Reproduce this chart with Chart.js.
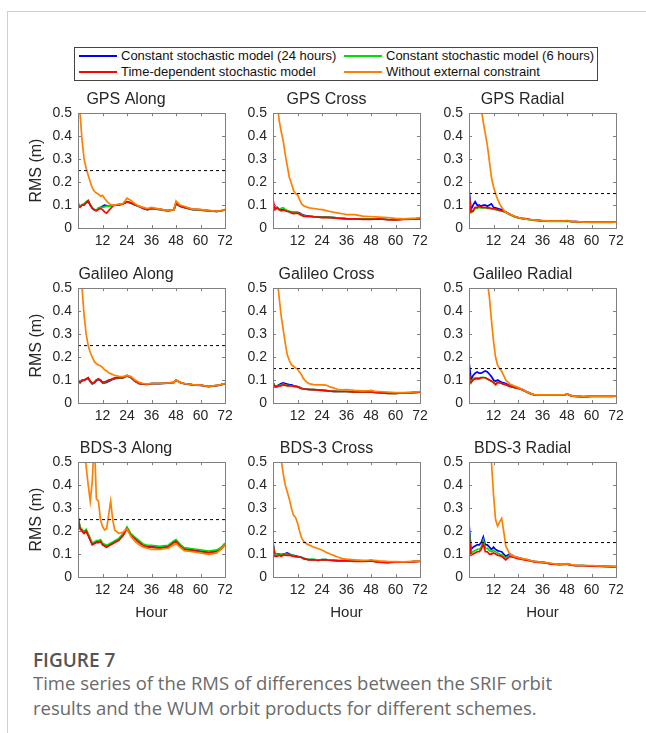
<!DOCTYPE html>
<html>
<head>
<meta charset="utf-8">
<script src="https://cdn.jsdelivr.net/npm/chart.js@4.4.1/dist/chart.umd.min.js"></script>
<style>
  body { margin: 0; background: #fff; width: 646px; height: 733px; position: relative; overflow: hidden; font-family: "Liberation Sans", Arial, sans-serif; }
  #frame { position: absolute; left: 7px; top: 11px; right: -2px; bottom: -2px; border-top: 1px solid #d0d0d0; border-left: 1px solid #d0d0d0; }
  #legend { position: absolute; left: 74px; top: 47px; width: 524px; height: 34px; border: 1px solid #444; box-sizing: border-box; }
  .item { position: absolute; font-size: 13px; color: #111; white-space: nowrap; line-height: 16px; }
  .swatch { position: absolute; height: 2px; width: 38px; }
  .panel { position: absolute; }
  #caption-head { position: absolute; left: 33px; top: 647px; font-family: "Open Sans", "Noto Sans", sans-serif; font-size: 19px; font-weight: 600; color: #555; }
  #caption { position: absolute; left: 33px; top: 671px; width: 560px; font-family: "Open Sans", "Noto Sans", sans-serif; font-size: 18.5px; line-height: 24.5px; color: #6a6a6a; }
</style>
</head>
<body>
<div id="frame"></div>
<div id="legend"></div>
<div id="caption-head">FIGURE 7</div>
<div id="caption">Time series of the RMS of differences between the SRIF orbit results and the WUM orbit products for different schemes.</div>
<script>
// -- Data --
const hours = [0, 1, 2, 3, 4, 5, 6, 7, 8, 9, 10, 11, 12, 13, 14, 15, 16, 17, 18, 20, 22, 24, 26, 28, 30, 32, 34, 36, 40, 44, 47, 48, 50, 52, 56, 60, 64, 68, 70, 72];

const seriesNames = ["Constant stochastic model (24 hours)", "Constant stochastic model (6 hours)", "Time-dependent stochastic model", "Without external constraint"];
const seriesColors = ["#0000ff", "#00e000", "#ff0000", "#ff8000"];

const panelTitles = ["GPS Along", "GPS Cross", "GPS Radial", "Galileo Along", "Galileo Cross", "Galileo Radial", "BDS-3 Along", "BDS-3 Cross", "BDS-3 Radial"];
const thresholds = [0.25, 0.15, 0.15, 0.25, 0.15, 0.15, 0.25, 0.15, 0.15];
const xTicks = [0, 12, 24, 36, 48, 60, 72];
const yTicks = [0, 0.1, 0.2, 0.3, 0.4, 0.5];

// GPS
const gpsAlongBlue   = [0.105,0.095,0.1,0.105,0.11,0.115,0.1,0.087,0.08,0.077,0.082,0.09,0.095,0.1,0.098,0.095,0.095,0.098,0.1,0.102,0.105,0.113,0.108,0.1,0.093,0.085,0.08,0.085,0.08,0.075,0.08,0.105,0.095,0.09,0.08,0.078,0.075,0.072,0.074,0.079];
const gpsAlongGreen  = [0.11,0.095,0.1,0.105,0.115,0.12,0.102,0.088,0.08,0.078,0.088,0.09,0.09,0.092,0.095,0.095,0.095,0.098,0.1,0.102,0.106,0.115,0.11,0.1,0.094,0.086,0.08,0.085,0.081,0.076,0.08,0.107,0.095,0.09,0.081,0.079,0.075,0.072,0.074,0.079];
const gpsAlongRed    = [0.1,0.09,0.1,0.1,0.11,0.12,0.1,0.085,0.078,0.075,0.08,0.085,0.08,0.07,0.065,0.075,0.085,0.095,0.1,0.1,0.105,0.115,0.11,0.1,0.095,0.085,0.08,0.085,0.082,0.076,0.08,0.11,0.095,0.09,0.082,0.08,0.076,0.072,0.075,0.08];
const gpsAlongOrange = [0.9,0.5,0.38,0.3,0.26,0.23,0.2,0.175,0.16,0.152,0.148,0.138,0.142,0.13,0.118,0.108,0.102,0.1,0.1,0.104,0.106,0.13,0.12,0.105,0.095,0.09,0.085,0.09,0.082,0.076,0.08,0.118,0.1,0.095,0.082,0.08,0.077,0.073,0.075,0.08];

const gpsCrossBlue   = [0.11,0.085,0.09,0.08,0.08,0.08,0.078,0.075,0.072,0.07,0.068,0.068,0.068,0.065,0.06,0.056,0.054,0.053,0.052,0.05,0.049,0.047,0.047,0.046,0.045,0.043,0.042,0.041,0.04,0.039,0.039,0.039,0.04,0.041,0.037,0.036,0.038,0.04,0.04,0.041];
const gpsCrossGreen  = [0.1,0.083,0.09,0.082,0.086,0.088,0.08,0.076,0.073,0.07,0.07,0.068,0.066,0.062,0.057,0.054,0.052,0.051,0.051,0.049,0.048,0.046,0.047,0.046,0.045,0.043,0.042,0.041,0.04,0.039,0.039,0.039,0.04,0.041,0.037,0.036,0.038,0.04,0.04,0.041];
const gpsCrossRed    = [0.125,0.08,0.088,0.08,0.075,0.078,0.075,0.072,0.07,0.066,0.063,0.064,0.065,0.06,0.055,0.052,0.05,0.05,0.05,0.048,0.047,0.045,0.046,0.045,0.044,0.042,0.041,0.04,0.04,0.038,0.038,0.038,0.039,0.04,0.036,0.035,0.037,0.039,0.04,0.04];
const gpsCrossOrange = [1.2,0.8,0.55,0.47,0.42,0.38,0.32,0.27,0.22,0.195,0.165,0.15,0.145,0.125,0.105,0.097,0.093,0.09,0.088,0.085,0.082,0.08,0.076,0.072,0.068,0.065,0.062,0.058,0.058,0.052,0.05,0.05,0.049,0.048,0.045,0.042,0.04,0.042,0.043,0.045];

const gpsRadialBlue   = [0.17,0.08,0.1,0.115,0.1,0.1,0.095,0.1,0.1,0.095,0.1,0.105,0.09,0.088,0.085,0.082,0.08,0.075,0.07,0.06,0.05,0.045,0.042,0.04,0.037,0.035,0.033,0.031,0.03,0.03,0.03,0.031,0.029,0.028,0.026,0.025,0.025,0.025,0.025,0.026];
const gpsRadialGreen  = [0.145,0.068,0.072,0.085,0.085,0.09,0.088,0.088,0.087,0.085,0.085,0.083,0.082,0.08,0.078,0.076,0.074,0.071,0.068,0.058,0.05,0.044,0.041,0.038,0.035,0.033,0.031,0.03,0.029,0.029,0.029,0.03,0.028,0.027,0.025,0.024,0.024,0.024,0.024,0.025];
const gpsRadialRed    = [0.15,0.07,0.075,0.09,0.09,0.095,0.09,0.09,0.09,0.088,0.088,0.085,0.085,0.083,0.08,0.078,0.075,0.072,0.07,0.06,0.052,0.045,0.042,0.04,0.037,0.035,0.033,0.031,0.03,0.03,0.03,0.031,0.029,0.028,0.026,0.025,0.025,0.025,0.025,0.026];
const gpsRadialOrange = [2.0,1.6,1.3,1.0,0.8,0.6,0.52,0.46,0.41,0.36,0.29,0.22,0.18,0.15,0.125,0.105,0.09,0.078,0.068,0.06,0.052,0.045,0.042,0.039,0.037,0.035,0.033,0.032,0.03,0.03,0.031,0.033,0.029,0.028,0.026,0.025,0.025,0.025,0.025,0.026];

// Galileo
const galAlongBlue   = [0.098,0.088,0.097,0.098,0.103,0.108,0.093,0.083,0.088,0.097,0.102,0.097,0.088,0.088,0.09,0.095,0.098,0.103,0.106,0.108,0.109,0.118,0.11,0.094,0.084,0.082,0.081,0.084,0.084,0.086,0.089,0.099,0.089,0.084,0.079,0.077,0.071,0.076,0.079,0.084];
const galAlongGreen  = [0.1,0.09,0.1,0.1,0.105,0.11,0.095,0.085,0.09,0.1,0.104,0.1,0.09,0.091,0.094,0.099,0.101,0.105,0.109,0.11,0.11,0.12,0.111,0.095,0.085,0.083,0.082,0.085,0.085,0.087,0.09,0.1,0.09,0.085,0.08,0.078,0.072,0.077,0.08,0.085];
const galAlongRed    = [0.1,0.09,0.1,0.1,0.105,0.11,0.095,0.085,0.09,0.1,0.105,0.1,0.09,0.092,0.095,0.1,0.102,0.106,0.11,0.11,0.11,0.12,0.112,0.095,0.085,0.083,0.082,0.085,0.085,0.087,0.09,0.1,0.09,0.085,0.08,0.078,0.072,0.077,0.08,0.085];
const galAlongOrange = [1.0,0.7,0.5,0.38,0.3,0.25,0.22,0.2,0.18,0.172,0.165,0.162,0.155,0.145,0.14,0.132,0.128,0.124,0.12,0.116,0.115,0.12,0.115,0.1,0.09,0.085,0.083,0.085,0.085,0.087,0.09,0.1,0.09,0.085,0.08,0.078,0.072,0.077,0.08,0.085];

const galCrossBlue   = [0.09,0.072,0.075,0.08,0.085,0.088,0.085,0.082,0.08,0.079,0.076,0.074,0.072,0.068,0.064,0.062,0.061,0.06,0.059,0.058,0.057,0.056,0.054,0.052,0.051,0.05,0.05,0.05,0.048,0.048,0.048,0.048,0.046,0.045,0.043,0.042,0.044,0.045,0.046,0.047];
const galCrossGreen  = [0.087,0.071,0.072,0.077,0.078,0.082,0.079,0.077,0.076,0.075,0.073,0.072,0.071,0.067,0.063,0.061,0.06,0.059,0.058,0.058,0.056,0.055,0.054,0.052,0.051,0.05,0.05,0.05,0.048,0.048,0.048,0.048,0.046,0.045,0.042,0.042,0.044,0.045,0.046,0.047];
const galCrossRed    = [0.085,0.07,0.07,0.075,0.075,0.08,0.077,0.075,0.075,0.074,0.072,0.071,0.07,0.066,0.062,0.061,0.06,0.059,0.058,0.058,0.056,0.055,0.054,0.052,0.051,0.05,0.05,0.05,0.048,0.048,0.048,0.048,0.046,0.045,0.042,0.042,0.044,0.045,0.046,0.047];
const galCrossOrange = [1.2,0.8,0.55,0.46,0.38,0.32,0.26,0.21,0.185,0.167,0.16,0.153,0.148,0.135,0.122,0.105,0.095,0.088,0.083,0.08,0.079,0.079,0.078,0.07,0.065,0.058,0.057,0.058,0.055,0.053,0.054,0.055,0.051,0.05,0.048,0.045,0.045,0.047,0.048,0.05];

const galRadialBlue   = [0.18,0.1,0.12,0.13,0.135,0.13,0.13,0.135,0.14,0.135,0.125,0.115,0.1,0.095,0.1,0.095,0.09,0.088,0.085,0.075,0.07,0.065,0.06,0.05,0.042,0.036,0.035,0.035,0.035,0.035,0.036,0.04,0.032,0.03,0.028,0.03,0.03,0.03,0.03,0.031];
const galRadialGreen  = [0.125,0.088,0.105,0.11,0.11,0.11,0.112,0.112,0.11,0.106,0.1,0.096,0.09,0.082,0.09,0.088,0.085,0.082,0.08,0.072,0.068,0.064,0.058,0.049,0.041,0.035,0.034,0.034,0.034,0.034,0.035,0.039,0.031,0.029,0.027,0.029,0.029,0.029,0.029,0.03];
const galRadialRed    = [0.13,0.09,0.1,0.105,0.105,0.105,0.11,0.11,0.11,0.105,0.1,0.095,0.09,0.08,0.09,0.088,0.085,0.082,0.08,0.072,0.068,0.064,0.058,0.049,0.041,0.035,0.034,0.034,0.034,0.034,0.035,0.039,0.031,0.029,0.027,0.029,0.029,0.029,0.029,0.03];
const galRadialOrange = [3.0,2.4,1.9,1.6,1.3,1.1,1.0,0.82,0.65,0.53,0.46,0.36,0.27,0.2,0.165,0.15,0.138,0.12,0.1,0.083,0.075,0.068,0.06,0.05,0.042,0.036,0.035,0.035,0.035,0.035,0.036,0.04,0.032,0.03,0.028,0.03,0.03,0.03,0.03,0.031];

// BDS-3
const bdsAlongBlue   = [0.262,0.213,0.203,0.193,0.203,0.183,0.163,0.143,0.148,0.153,0.153,0.158,0.143,0.138,0.133,0.138,0.143,0.148,0.153,0.163,0.183,0.213,0.183,0.168,0.153,0.138,0.133,0.133,0.128,0.133,0.153,0.158,0.138,0.123,0.118,0.113,0.108,0.113,0.123,0.143];
const bdsAlongGreen  = [0.268,0.218,0.208,0.198,0.208,0.188,0.168,0.148,0.153,0.158,0.158,0.163,0.148,0.143,0.138,0.143,0.148,0.153,0.158,0.168,0.188,0.218,0.188,0.173,0.158,0.143,0.138,0.138,0.133,0.138,0.158,0.163,0.143,0.128,0.123,0.118,0.113,0.118,0.128,0.148];
const bdsAlongRed    = [0.26,0.21,0.2,0.19,0.2,0.18,0.16,0.14,0.145,0.15,0.15,0.155,0.14,0.135,0.13,0.135,0.14,0.145,0.15,0.16,0.18,0.21,0.18,0.165,0.15,0.135,0.13,0.13,0.125,0.13,0.15,0.155,0.135,0.12,0.115,0.11,0.105,0.11,0.12,0.14];
const bdsAlongOrange = [1.5,1.1,0.8,0.6,0.48,0.4,0.33,0.42,0.6,0.34,0.33,0.25,0.22,0.205,0.21,0.27,0.33,0.25,0.205,0.19,0.195,0.21,0.175,0.155,0.14,0.13,0.125,0.12,0.12,0.125,0.14,0.145,0.13,0.115,0.11,0.105,0.098,0.105,0.12,0.14];

const bdsCrossBlue   = [0.15,0.095,0.1,0.1,0.098,0.1,0.102,0.105,0.1,0.097,0.094,0.092,0.09,0.088,0.086,0.081,0.079,0.077,0.076,0.076,0.073,0.076,0.076,0.073,0.072,0.071,0.071,0.071,0.069,0.069,0.07,0.071,0.068,0.066,0.064,0.066,0.066,0.067,0.068,0.069];
const bdsCrossGreen  = [0.145,0.093,0.097,0.098,0.095,0.098,0.1,0.1,0.097,0.095,0.092,0.09,0.089,0.087,0.086,0.081,0.079,0.077,0.077,0.077,0.074,0.076,0.076,0.074,0.072,0.071,0.071,0.071,0.069,0.069,0.07,0.071,0.068,0.066,0.064,0.066,0.066,0.067,0.068,0.069];
const bdsCrossRed    = [0.14,0.09,0.09,0.095,0.09,0.095,0.095,0.094,0.095,0.092,0.09,0.089,0.088,0.086,0.085,0.08,0.078,0.076,0.075,0.075,0.072,0.075,0.075,0.072,0.071,0.07,0.07,0.07,0.068,0.068,0.069,0.07,0.067,0.065,0.063,0.065,0.065,0.066,0.067,0.068];
const bdsCrossOrange = [1.5,1.1,0.8,0.6,0.51,0.45,0.4,0.37,0.34,0.3,0.27,0.26,0.235,0.2,0.17,0.155,0.148,0.142,0.138,0.13,0.124,0.118,0.108,0.1,0.093,0.086,0.08,0.078,0.075,0.072,0.074,0.075,0.072,0.07,0.068,0.067,0.066,0.068,0.069,0.07];

const bdsRadialBlue   = [0.235,0.12,0.13,0.135,0.14,0.14,0.15,0.175,0.14,0.14,0.13,0.12,0.13,0.12,0.115,0.112,0.11,0.1,0.09,0.1,0.09,0.085,0.08,0.075,0.072,0.068,0.066,0.065,0.058,0.055,0.056,0.057,0.053,0.05,0.05,0.048,0.047,0.046,0.045,0.045];
const bdsRadialGreen  = [0.21,0.105,0.11,0.115,0.12,0.12,0.13,0.16,0.125,0.125,0.115,0.11,0.115,0.11,0.105,0.1,0.098,0.09,0.082,0.095,0.088,0.083,0.079,0.075,0.071,0.067,0.065,0.064,0.058,0.055,0.056,0.057,0.053,0.05,0.05,0.048,0.047,0.046,0.045,0.045];
const bdsRadialRed    = [0.19,0.095,0.1,0.105,0.11,0.11,0.12,0.145,0.11,0.11,0.1,0.1,0.105,0.1,0.095,0.093,0.09,0.082,0.075,0.09,0.085,0.08,0.077,0.073,0.07,0.066,0.064,0.063,0.057,0.054,0.055,0.056,0.052,0.049,0.049,0.047,0.046,0.045,0.044,0.044];
const bdsRadialOrange = [4.0,3.3,2.7,2.2,1.8,1.5,1.2,1.0,0.88,0.75,0.6,0.5,0.36,0.25,0.222,0.24,0.255,0.2,0.135,0.1,0.09,0.085,0.08,0.078,0.072,0.068,0.066,0.065,0.06,0.055,0.057,0.058,0.054,0.052,0.05,0.05,0.048,0.047,0.046,0.045];

const panelSeries = [
    [gpsAlongBlue, gpsAlongGreen, gpsAlongRed, gpsAlongOrange],
    [gpsCrossBlue, gpsCrossGreen, gpsCrossRed, gpsCrossOrange],
    [gpsRadialBlue, gpsRadialGreen, gpsRadialRed, gpsRadialOrange],
    [galAlongBlue, galAlongGreen, galAlongRed, galAlongOrange],
    [galCrossBlue, galCrossGreen, galCrossRed, galCrossOrange],
    [galRadialBlue, galRadialGreen, galRadialRed, galRadialOrange],
    [bdsAlongBlue, bdsAlongGreen, bdsAlongRed, bdsAlongOrange],
    [bdsCrossBlue, bdsCrossGreen, bdsCrossRed, bdsCrossOrange],
    [bdsRadialBlue, bdsRadialGreen, bdsRadialRed, bdsRadialOrange]
];

// -- Layout --
const PLOT_LEFT = [78, 273, 469];
const PLOT_TOP = [113, 288, 462];
const PLOT_W = 147;
const PLOT_H = 115;
const TITLE_H = 23;
const PAD_R = 14;
const AXIS_COLOR = '#262626';
const FONT = 'Liberation Sans, Arial, sans-serif';

// -- Legend --
const legendEl = document.getElementById('legend');
const legendPos = [[4, 8], [269, 8], [4, 24], [269, 24]];
seriesNames.forEach((name, i) => {
    const [lx, ly] = legendPos[i];
    const sw = document.createElement('div');
    sw.className = 'swatch';
    sw.style.left = lx + 'px';
    sw.style.top = (ly - 1) + 'px';
    sw.style.background = seriesColors[i];
    legendEl.appendChild(sw);
    const tx = document.createElement('div');
    tx.className = 'item';
    tx.style.left = (lx + 42) + 'px';
    tx.style.top = (ly - 8) + 'px';
    tx.textContent = name;
    legendEl.appendChild(tx);
});

// inward ticks and box, MATLAB style
const boxPlugin = {
    id: 'box',
    afterDatasetsDraw(chart) {
        const { ctx, chartArea: a, scales } = chart;
        ctx.save();
        ctx.strokeStyle = '#808080';
        ctx.lineWidth = 1;
        ctx.beginPath();
        xTicks.forEach(v => {
            const px = Math.round(scales.x.getPixelForValue(v)) + 0.5;
            ctx.moveTo(px, a.bottom); ctx.lineTo(px, a.bottom - 3);
            ctx.moveTo(px, a.top); ctx.lineTo(px, a.top + 3);
        });
        yTicks.forEach(v => {
            const py = Math.round(scales.y.getPixelForValue(v)) + 0.5;
            ctx.moveTo(a.left, py); ctx.lineTo(a.left + 3, py);
            ctx.moveTo(a.right, py); ctx.lineTo(a.right - 3, py);
        });
        ctx.stroke();
        ctx.strokeRect(Math.round(a.left) + 0.5, Math.round(a.top) + 0.5, Math.round(a.width), Math.round(a.height));
        ctx.restore();
    }
};

function makePanel(idx) {
    const r = Math.floor(idx / 3), c = idx % 3;
    const yW = c === 0 ? 51 : 40;
    const xH = r === 2 ? 45 : 22;
    const w = yW + PLOT_W + PAD_R;
    const h = TITLE_H + PLOT_H + xH;

    const canvas = document.createElement('canvas');
    canvas.className = 'panel';
    canvas.width = w;
    canvas.height = h;
    canvas.style.left = (PLOT_LEFT[c] - yW) + 'px';
    canvas.style.top = (PLOT_TOP[r] - TITLE_H) + 'px';
    canvas.style.width = w + 'px';
    canvas.style.height = h + 'px';
    document.body.appendChild(canvas);

    const datasets = [{
        data: [{ x: 0, y: thresholds[idx] }, { x: 72, y: thresholds[idx] }],
        borderColor: '#000',
        borderWidth: 1,
        borderDash: [3, 3],
        pointRadius: 0
    }];
    // orange on top, blue at bottom
    [3, 2, 1, 0].forEach(k => {
        datasets.push({
            label: seriesNames[k],
            data: hours.map((hr, i) => ({ x: hr, y: panelSeries[idx][k][i] })),
            borderColor: seriesColors[k],
            borderWidth: 1.7,
            pointRadius: 0,
            tension: 0
        });
    });

    new Chart(canvas, {
        type: 'line',
        data: { datasets },
        plugins: [boxPlugin],
        options: {
            responsive: false,
            animation: false,
            layout: { padding: { left: 0, right: PAD_R, top: 0, bottom: 0 } },
            plugins: {
                legend: { display: false },
                tooltip: { enabled: false },
                title: {
                    display: true,
                    text: panelTitles[idx],
                    color: AXIS_COLOR,
                    font: { family: FONT, size: 16, weight: 'normal', lineHeight: 1.2 },
                    padding: { top: 0, bottom: 4 }
                }
            },
            scales: {
                x: {
                    type: 'linear',
                    min: 0,
                    max: 72,
                    afterFit: s => { s.height = xH; },
                    afterBuildTicks: s => { s.ticks = xTicks.map(v => ({ value: v })); },
                    grid: { display: false, drawTicks: false },
                    border: { display: false },
                    ticks: {
                        autoSkip: false,
                        maxRotation: 0,
                        padding: 5,
                        color: AXIS_COLOR,
                        font: { family: FONT, size: 14 },
                        callback: v => v === 0 ? '' : String(v)
                    },
                    title: {
                        display: r === 2,
                        text: 'Hour',
                        color: AXIS_COLOR,
                        font: { family: FONT, size: 15, lineHeight: 1.2 },
                        padding: { top: 4, bottom: 0 }
                    }
                },
                y: {
                    min: 0,
                    max: 0.5,
                    afterFit: s => { s.width = yW; },
                    afterBuildTicks: s => { s.ticks = yTicks.map(v => ({ value: v })); },
                    grid: { display: false, drawTicks: false },
                    border: { display: false },
                    ticks: {
                        padding: 6,
                        color: AXIS_COLOR,
                        font: { family: FONT, size: 14 },
                        callback: v => String(Number(v.toFixed(1)))
                    },
                    title: {
                        display: c === 0,
                        text: 'RMS (m)',
                        color: AXIS_COLOR,
                        font: { family: FONT, size: 16, lineHeight: 1.2 },
                        padding: { top: 0, bottom: 2 }
                    }
                }
            }
        }
    });
}

panelTitles.forEach((t, i) => makePanel(i));
</script>
</body>
</html>
